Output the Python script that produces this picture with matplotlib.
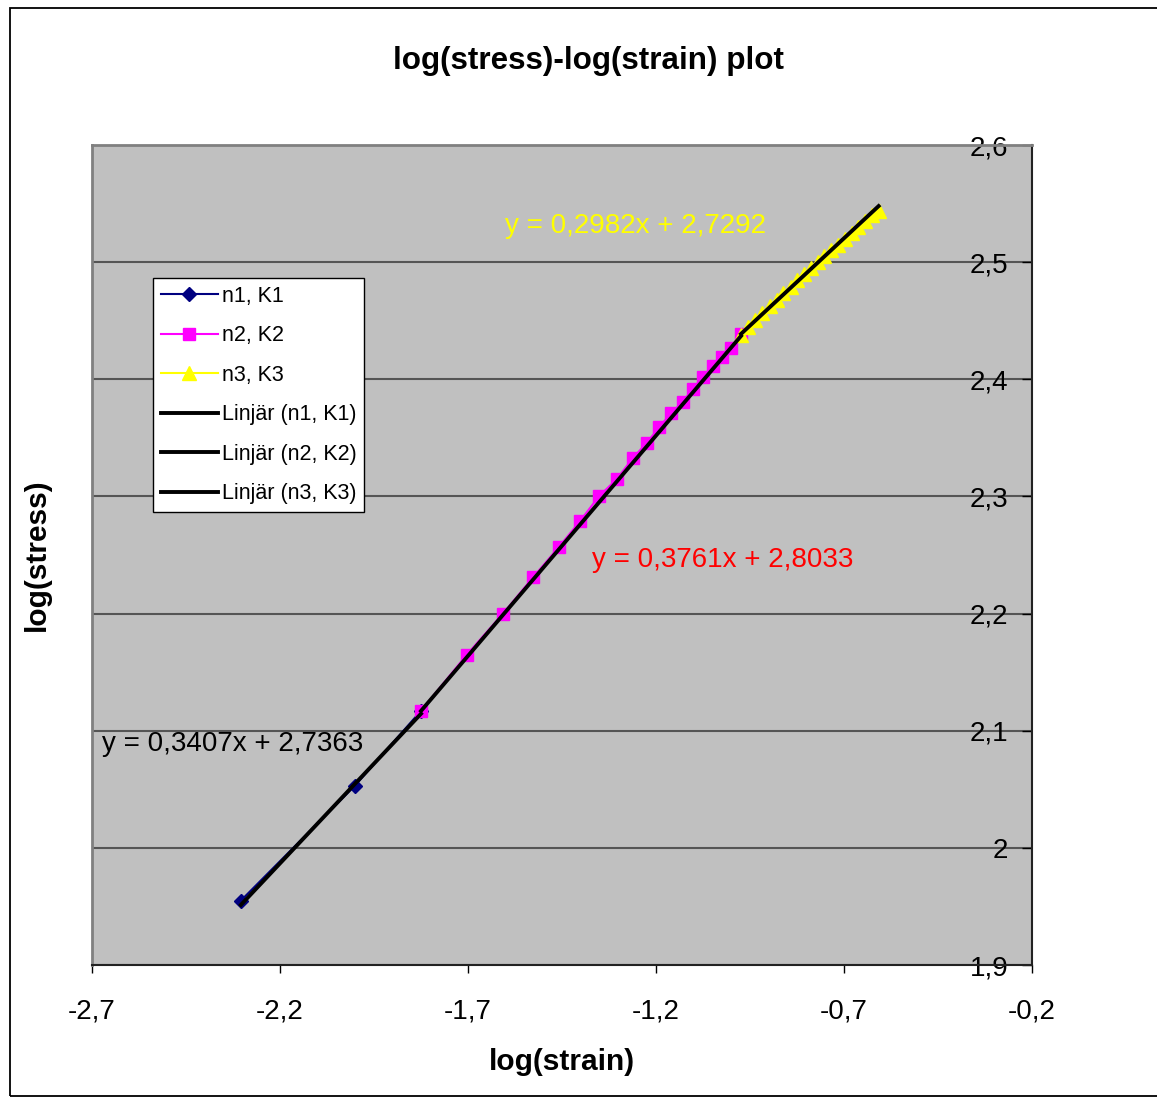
import numpy as np
import matplotlib
matplotlib.use('Agg')
import matplotlib.pyplot as plt
from matplotlib.ticker import FuncFormatter, FixedLocator
from matplotlib.patches import Rectangle

plt.rcParams['font.family'] = ['Liberation Sans', 'DejaVu Sans']

# data
x1 = [-2.304, -2.001, -1.825]
y1 = [1.955, 2.053, 2.117]

x2 = [-1.825, -1.703, -1.607, -1.527, -1.458, -1.402, -1.352, -1.304, -1.261, -1.224,
      -1.192, -1.160, -1.128, -1.102, -1.075, -1.048, -1.024, -1.000, -0.974]
y2 = [2.117, 2.165, 2.200, 2.231, 2.257, 2.279, 2.300, 2.315, 2.333, 2.346,
      2.359, 2.371, 2.381, 2.392, 2.402, 2.411, 2.419, 2.427, 2.439]

x3 = [-0.974, -0.955, -0.936, -0.917, -0.898, -0.879, -0.861, -0.842, -0.824, -0.806,
      -0.788, -0.770, -0.752, -0.734, -0.716, -0.698, -0.680, -0.662, -0.644, -0.626, -0.608]
y3 = [2.438, 2.445, 2.451, 2.457, 2.463, 2.468, 2.474, 2.479, 2.485, 2.490,
      2.495, 2.500, 2.505, 2.510, 2.515, 2.520, 2.525, 2.530, 2.535, 2.540, 2.544]

# trendline coefficients (slope, intercept) as printed on the chart
slopes = [0.3407, 0.3761, 0.2982]
intercepts = [2.7363, 2.8033, 2.7292]

series_labels = ['n1, K1', 'n2, K2', 'n3, K3']
trend_labels = ['Linjär (n1, K1)', 'Linjär (n2, K2)', 'Linjär (n3, K3)']

x_ticks = [-2.7, -2.2, -1.7, -1.2, -0.7, -0.2]
y_ticks = [1.9, 2.0, 2.1, 2.2, 2.3, 2.4, 2.5, 2.6]


def comma(v, pos=None):
    s = f'{round(v, 2):g}'
    return s.replace('.', ',')


fig = plt.figure(figsize=(11.57, 10.98), dpi=100)
fig.patches.append(Rectangle((0.0086, 0.002), 1.2, 0.9907, transform=fig.transFigure,
                             fill=False, edgecolor='black', lw=1.3))

ax = fig.add_axes([0.0795, 0.1211, 0.8125, 0.7468])
ax.set_facecolor('#C0C0C0')

h1, = ax.plot(x1, y1, color='#000080', lw=1.5, marker='D', ms=7, mfc='#000080', mec='#000080',
              label=series_labels[0], zorder=3)
h2, = ax.plot(x2, y2, color='#FF00FF', lw=1.5, marker='s', ms=8, mfc='#FF00FF', mec='#FF00FF',
              label=series_labels[1], zorder=3)
h3, = ax.plot(x3, y3, color='#FFFF00', lw=1.5, marker='^', ms=10, mfc='#FFFF00', mec='#FFFF00',
              label=series_labels[2], zorder=3)

trend_handles = []
for xs, m, b, lab in zip([x1, x2, x3], slopes, intercepts, trend_labels):
    xx = np.array([min(xs), max(xs)])
    t, = ax.plot(xx, m * xx + b, color='black', lw=2.8, label=lab, zorder=4)
    trend_handles.append(t)

ax.text(-1.602, 2.531, 'y = 0,2982x + 2,7292', color='#FFFF00', fontsize=20, ha='left', va='center')
ax.text(-1.370, 2.2457, 'y = 0,3761x + 2,8033', color='#FF0000', fontsize=20, ha='left', va='center')
ax.text(-2.673, 2.0887, 'y = 0,3407x + 2,7363', color='black', fontsize=20, ha='left', va='center')

ax.set_xlim(-2.7, -0.2)
ax.set_ylim(1.9, 2.6)
ax.xaxis.set_major_locator(FixedLocator(x_ticks))
ax.yaxis.set_major_locator(FixedLocator(y_ticks))
ax.xaxis.set_major_formatter(FuncFormatter(comma))
ax.yaxis.set_major_formatter(FuncFormatter(comma))

ax.yaxis.tick_right()
ax.tick_params(axis='y', direction='in', length=7, width=1, pad=-17, labelsize=20)
for lbl in ax.get_yticklabels():
    lbl.set_horizontalalignment('right')
ax.tick_params(axis='x', direction='out', length=6, width=1, pad=18, labelsize=20)

ax.grid(axis='y', color='#555555', lw=1.5)
ax.set_axisbelow(True)

ax.spines['top'].set_color('#808080')
ax.spines['left'].set_color('#808080')
ax.spines['top'].set_linewidth(2)
ax.spines['left'].set_linewidth(2)
ax.spines['right'].set_color('#222222')
ax.spines['bottom'].set_color('#222222')
ax.spines['right'].set_linewidth(1.5)
ax.spines['bottom'].set_linewidth(1.5)

fig.text(0.509, 0.944, 'log(stress)-log(strain) plot', fontsize=22.6, fontweight='bold',
         ha='center', va='center')
fig.text(0.486, 0.033, 'log(strain)', fontsize=21.5, fontweight='bold', ha='center', va='center')
fig.text(0.032, 0.495, 'log(stress)', fontsize=21.5, fontweight='bold', ha='center', va='center',
         rotation=90)

leg = ax.legend(handles=[h1, h2, h3] + trend_handles, loc='upper left',
                bbox_to_anchor=(0.0649, 0.8378), borderaxespad=0, fancybox=False,
                edgecolor='black', framealpha=1, fontsize=15.5, handlelength=2.65,
                labelspacing=0.86, handletextpad=0.2, borderpad=0.35)
leg.get_frame().set_linewidth(1)

fig.savefig('out.png', dpi=100)
